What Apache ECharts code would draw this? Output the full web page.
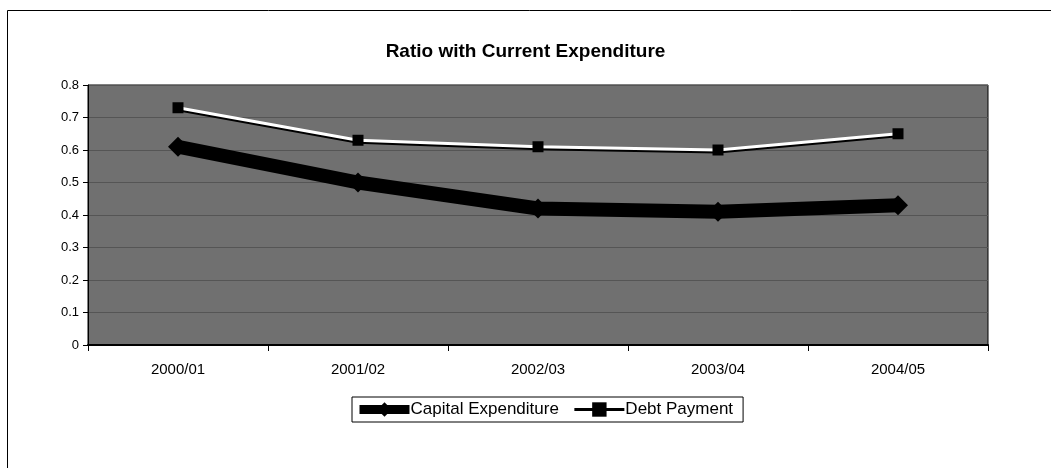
<!DOCTYPE html>
<html>
<head>
<meta charset="utf-8">
<style>
html,body{margin:0;padding:0;background:#fff;}
#chart{width:1051px;height:468px;}
</style>
<script src="https://cdn.jsdelivr.net/npm/echarts@6/dist/echarts.min.js"></script>
</head>
<body>
<div id="chart"></div>
<script>
const categories = ['2000/01', '2001/02', '2002/03', '2003/04', '2004/05'];
const capitalExpenditure = [0.61, 0.50, 0.42, 0.41, 0.43];
const debtPayment = [0.73, 0.63, 0.61, 0.60, 0.65];
const yTicks = [0, 0.1, 0.2, 0.3, 0.4, 0.5, 0.6, 0.7, 0.8];

const chart = echarts.init(document.getElementById('chart'), null, {renderer: 'canvas'});
const font = 'Liberation Sans, Arial, sans-serif';
chart.setOption({
  backgroundColor: '#ffffff',
  animation: false,
  graphic: [{
    type: 'rect', z: -1, silent: true,
    shape: {x: 7.5, y: 10.5, width: 1100, height: 600},
    style: {fill: 'none', stroke: '#000', lineWidth: 1}
  }],
  title: {
    text: 'Ratio with Current Expenditure',
    left: 'center', top: 37,
    textStyle: {fontFamily: font, fontSize: 19, fontWeight: 'bold', color: '#000'}
  },
  grid: {
    left: 88, right: 63, top: 85, bottom: 123,
    show: true, backgroundColor: '#707070', borderColor: '#000', borderWidth: 1
  },
  legend: {
    top: 397, left: 352,
    padding: [4, 10, 4, 3],
    borderColor: '#000', borderWidth: 1, borderRadius: 0,
    itemWidth: 50, itemHeight: 18, itemGap: 14,
    textStyle: {fontFamily: font, fontSize: 17, color: '#000', padding: [0, 0, 0, -4]},
    data: [
      {name: 'Capital Expenditure', itemStyle: {color: '#000'}, lineStyle: {color: '#000', width: 9}},
      {name: 'Debt Payment', itemStyle: {color: '#000'}, lineStyle: {color: '#000', width: 3}}
    ]
  },
  xAxis: {
    type: 'category',
    data: categories,
    boundaryGap: true,
    axisLine: {show: true, lineStyle: {color: '#000', width: 2}},
    axisTick: {show: true, length: 6, lineStyle: {color: '#000'}},
    axisLabel: {fontFamily: font, fontSize: 15, color: '#000', margin: 17},
    splitLine: {show: false}
  },
  yAxis: {
    type: 'value',
    min: 0, max: 0.8, interval: 0.1,
    axisLine: {show: true, lineStyle: {color: '#000', width: 1}},
    axisTick: {show: true, length: 5, lineStyle: {color: '#000'}},
    axisLabel: {
      fontFamily: font, fontSize: 13, color: '#000', margin: 9,
      formatter: v => {
        const t = yTicks.find(x => Math.abs(x - v) < 1e-9);
        return t === 0 ? '0' : String(t);
      }
    },
    splitLine: {show: true, lineStyle: {color: '#555555', width: 1}}
  },
  series: [
    {
      name: 'Capital Expenditure',
      type: 'line',
      data: capitalExpenditure,
      symbol: 'diamond',
      symbolSize: 20,
      itemStyle: {color: '#000'},
      lineStyle: {color: '#000', width: 14},
      z: 3
    },
    {
      name: 'Debt Payment',
      type: 'line',
      data: debtPayment,
      symbol: 'rect',
      symbolSize: 11,
      itemStyle: {color: '#000'},
      lineStyle: {color: '#fff', width: 3, shadowColor: '#000', shadowBlur: 0, shadowOffsetY: 2},
      z: 4
    }
  ]
});
</script>
</body>
</html>
